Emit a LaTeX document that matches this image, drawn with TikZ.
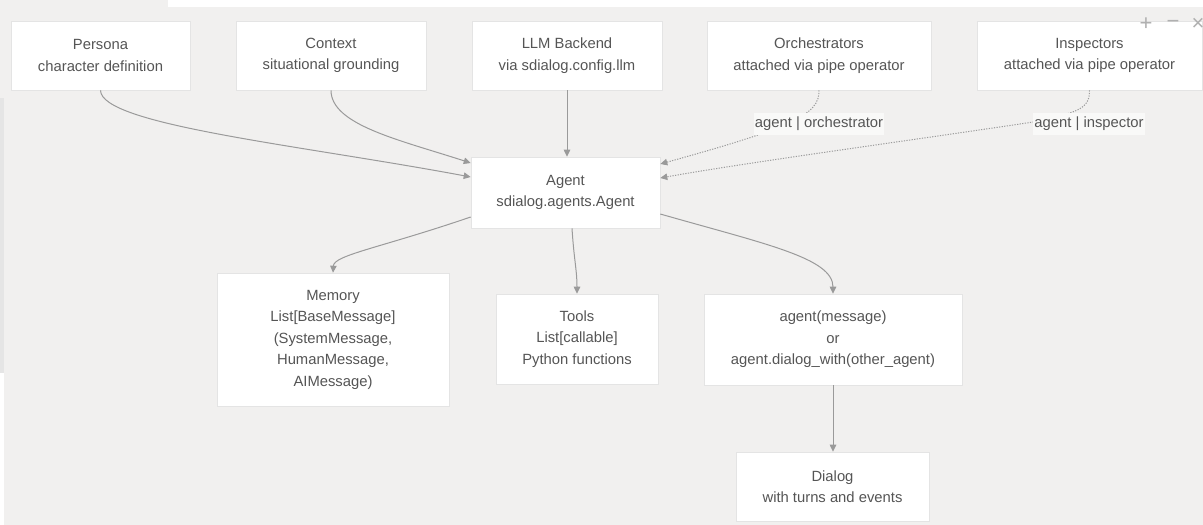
\documentclass[tikz,border=0pt]{standalone}
\usepackage{fontspec}
\setmainfont{Liberation Sans}
\usetikzlibrary{arrows.meta,calc}
\definecolor{bgc}{HTML}{F1F0EF}
\definecolor{boxline}{HTML}{E4E4E4}
\definecolor{txt}{HTML}{555555}
\definecolor{edge}{HTML}{9A9A9A}
\definecolor{lblbg}{HTML}{F9F9F8}
\definecolor{ctrl}{HTML}{B0B0B0}
\tikzset{
  box/.style={draw=boxline, line width=0.6pt, fill=white, align=center, text=txt,
    font=\fontsize{14.8}{21.5}\selectfont, inner sep=0pt},
  conn/.style={draw=edge, line width=1pt, -{Triangle[length=7pt,width=6.5pt]}},
  dotconn/.style={draw=edge, line width=1pt, dash pattern=on 1.2pt off 1.4pt,
    -{Triangle[length=7pt,width=6.5pt]}},
  elabel/.style={fill=lblbg, text=txt, font=\fontsize{14.8}{17}\selectfont,
    inner xsep=1pt, inner ysep=0pt, minimum height=22pt},
  ctrlmark/.style={text=ctrl, font=\fontsize{22}{22}\selectfont, inner sep=0pt}
}
\begin{document}
\begin{tikzpicture}[x=1pt,y=-1pt]
\useasboundingbox (0,0) rectangle (1203,525);
\fill[bgc] (0,0) rectangle (1203,525);
\fill[white] (168,0) rectangle (1203,7);
\fill[black!10] (0,98) rectangle (4,373);
\fill[white] (0,373) rectangle (4,525);

% top row
\node[box, minimum width=179pt, minimum height=69pt] (persona) at (100.5,55.5) {Persona\\character definition};
\node[box, minimum width=190pt, minimum height=69pt] (context) at (331,55.5) {Context\\situational grounding};
\node[box, minimum width=190pt, minimum height=69pt] (llm) at (567,55.5) {LLM Backend\\via sdialog.config.llm};
\node[box, minimum width=224pt, minimum height=69pt] (orch) at (819,55.5) {Orchestrators\\attached via pipe operator};
\node[box, minimum width=225pt, minimum height=69pt] (insp) at (1089.5,55.5) {Inspectors\\attached via pipe operator};

% agent
\node[box, minimum width=189pt, minimum height=71pt] (agent) at (565.5,192.5) {Agent\\sdialog.agents.Agent};

% bottom row
\node[box, minimum width=232pt, minimum height=133pt] (memory) at (333,339.5) {Memory\\List[BaseMessage]\\(SystemMessage,\\HumanMessage,\\AIMessage)};
\node[box, minimum width=162pt, minimum height=90pt] (tools) at (577,339) {Tools\\List[callable]\\Python functions};
\node[box, minimum width=258pt, minimum height=91pt] (call) at (833,339.5) {agent(message)\\or\\agent.dialog\_with(other\_agent)};
\node[box, minimum width=193pt, minimum height=69pt] (dialog) at (832.5,486.5) {Dialog\\with turns and events};

% incoming solid edges
\draw[conn] (persona.south) .. controls (101,125) and (300,145) .. (agent.west |- 0,177);
\draw[conn] (context.south) .. controls (331,125) and (400,140) .. (agent.west |- 0,163);
\draw[conn] (llm.south) -- (agent.north -| llm.south);

% dotted edges with labels
\draw[dotconn] (orch.south) .. controls (820,115) and (790,128) .. (agent.east |- 0,164);
\draw[dotconn] (insp.south) .. controls (1090,110) and (1075,112) .. (1040,121)
   .. controls (900,142) and (750,162) .. (agent.east |- 0,178);
\node[elabel] (lblorch) at (819,124) {agent | orchestrator};
\node[elabel] (lblinsp) at (1089,124) {agent | inspector};

% outgoing edges
\draw[conn] (agent.west |- 0,217) .. controls (380,248) and (334,255) .. (memory.north);
\draw[conn] (agent.south -| 572,0) .. controls (574,260) and (577,270) .. (tools.north);
\draw[conn] (agent.east |- 0,214) .. controls (765,244) and (833,258) .. (call.north);
\draw[conn] (call.south) -- (dialog.north -| call.south);

% window controls
\node[ctrlmark] (cplus) at (1146,24) {+};
\node[ctrlmark] (cminus) at (1173,24) {−};
\node[ctrlmark] (cclose) at (1198,24) {×};
\end{tikzpicture}
\end{document}
